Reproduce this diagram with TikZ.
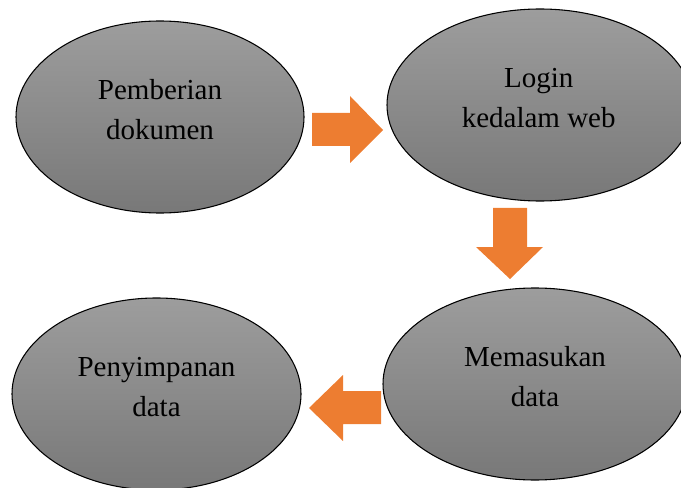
\documentclass[tikz,border=0pt]{standalone}
\usepackage{fontspec}
\setmainfont{Liberation Serif}
\usetikzlibrary{shapes.geometric}
\definecolor{arroworange}{RGB}{237,125,49}
\definecolor{greytop}{RGB}{157,157,157}
\definecolor{greybottom}{RGB}{120,120,120}
\tikzset{
  stepoval/.style={ellipse, draw=black, line width=0.8pt, top color=greytop, bottom color=greybottom, inner sep=0pt},
  steptext/.style={align=center, font=\fontsize{21.75pt}{30pt}\selectfont, yshift=5.5pt},
  blockarrow/.style={fill=arroworange, draw=none}
}
\begin{document}
\begin{tikzpicture}[x=0.75pt, y=-0.75pt]
        \useasboundingbox (0,0) rectangle (681,488);
        \begin{scope}
        \clip (0,0) rectangle (681,488);
        % Ellipses
        \node[stepoval, minimum width=216pt, minimum height=144pt] (pemberian) at (160,117) {};
        \node[stepoval, minimum width=229.5pt, minimum height=144pt] (login) at (540,105) {};
        \node[stepoval, minimum width=228pt, minimum height=144pt] (memasukan) at (535,384) {};
        \node[stepoval, minimum width=216.75pt, minimum height=144pt] (penyimpanan) at (156.5,394) {};
        \end{scope}
        % Labels
        \node[steptext] (pemberian-txt) at (pemberian.center) {Pemberian\\dokumen};
        \node[steptext] (login-txt) at ([xshift=-1pt]login.center) {Login\\kedalam web};
        \node[steptext] (memasukan-txt) at (memasukan.center) {Memasukan\\data};
        \node[steptext] (penyimpanan-txt) at (penyimpanan.center) {Penyimpanan\\data};
        % Block arrows
        \fill[blockarrow] (312,113) -- (350,113) -- (350,96) -- (383,130) -- (350,163) -- (350,146) -- (312,146) -- cycle;
        \fill[blockarrow] (493,208) -- (527,208) -- (527,247) -- (543,247) -- (510,279) -- (476,247) -- (493,247) -- cycle;
        \fill[blockarrow] (381,391) -- (343,391) -- (343,375) -- (309,408) -- (343,441) -- (343,424) -- (381,424) -- cycle;
\end{tikzpicture}
\end{document}
